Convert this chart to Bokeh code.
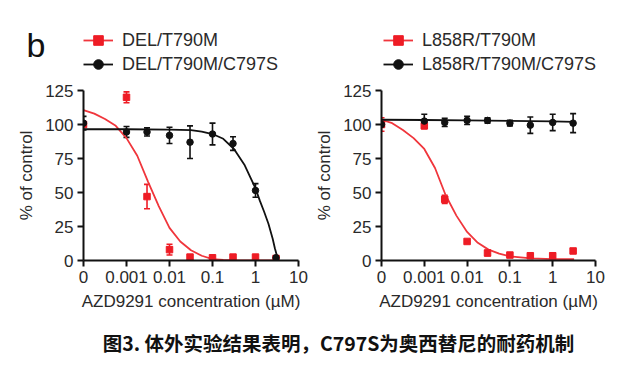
from bokeh.plotting import figure
from bokeh.models import (Range1d, FixedTicker, ColumnDataSource, Whisker, TeeHead,
                          Legend, LegendItem, Label)
from bokeh.layouts import column, row
from bokeh.embed import file_html
from bokeh.resources import INLINE

# ---------------- data ----------------
# concentrations in µM; the control (0) is drawn at the "0" tick position (1e-4)
conc = [1e-4, 0.001, 0.003, 0.01, 0.03, 0.1, 0.3, 1, 3]
tick_vals = [1e-4, 1e-3, 1e-2, 0.1, 1, 10]
tick_labels = ["0", "0.001", "0.01", "0.1", "1", "10"]
y_ticks = [0, 25, 50, 75, 100, 125]

# panel 1 : DEL
del_t790m = [100, 120, 47, 8, 2.5, 2, 2.5, 2.5, 1.5]
del_t790m_err = [1, 4, 9, 4, 1, 1, 1, 1, 1]
del_c797s = [101, 94.5, 94.5, 92, 87, 93, 86, 51.5, 2]
del_c797s_err = [5, 4, 3, 6, 12, 8, 5, 5, 1]

fit_x_del_red = [1e-4, 1.78e-4, 3.16e-4, 5.62e-4, 1e-3, 1.78e-3, 3.16e-3, 5.62e-3, 1e-2,
                 1.78e-2, 3.16e-2, 5.62e-2, 0.1, 0.178, 0.316, 1, 3.16]
fit_y_del_red = [110.5, 108, 104, 99, 90, 77, 58, 40, 24, 14, 7.5, 3.5, 1, 0.4, 0.2, 0, 0]
fit_x_del_black = [1e-4, 1e-3, 1e-2, 3.16e-2, 5.62e-2, 0.1, 0.178, 0.316, 0.562, 1,
                   1.26, 1.58, 2.0, 2.51, 2.82, 3.39]
fit_y_del_black = [96.5, 96.5, 96.3, 95.8, 94.8, 93, 89.5, 82, 70, 53, 44, 36, 27, 16, 9, 0]

# panel 2 : L858R
l858r_t790m = [100, 99, 45, 14, 5.5, 4, 3.5, 3.5, 7]
l858r_t790m_err = [5, 2, 3, 1, 2, 1, 1, 2, 1]
l858r_c797s = [100, 102.5, 101.5, 103, 103, 101, 99.5, 101.5, 101]
l858r_c797s_err = [2, 5, 3, 3, 2, 2, 6, 6, 7]

fit_x_l_red = [1e-4, 1.78e-4, 3.16e-4, 5.62e-4, 1e-3, 1.78e-3, 3.16e-3, 5.62e-3, 1e-2,
               1.78e-2, 3.16e-2, 5.62e-2, 0.1, 0.316, 1, 3.16]
fit_y_l_red = [103.5, 101, 96, 90, 82, 68, 48, 33, 21, 13, 8, 5, 3, 1.5, 1, 1]
fit_x_l_black = [1e-4, 1e-3, 1e-2, 0.1, 1, 3.16]
fit_y_l_black = [103.5, 103.3, 103, 102.7, 102.3, 102]

legend_labels_1 = ["DEL/T790M", "DEL/T790M/C797S"]
legend_labels_2 = ["L858R/T790M", "L858R/T790M/C797S"]
panel_letter = "b"
caption = "图3. 体外实验结果表明，C797S为奥西替尼的耐药机制"

RED = "#ee1c25"
CURVE_RED = "#f0363c"
BLACK = "#111111"
FONT = "Liberation Sans"
TXT = "#2a2a2a"


def make_panel(width, left, right, red_y, red_e, blk_y, blk_e, fxr, fyr, fxb, fyb):
    p = figure(width=width, height=240, x_axis_type="log",
               x_range=Range1d(1e-4, 10), y_range=Range1d(0, 125),
               output_backend="svg", toolbar_location=None,
               min_border_left=left, min_border_right=right,
               min_border_top=10, min_border_bottom=60)
    p.grid.visible = False
    p.outline_line_color = None

    p.xaxis.ticker = FixedTicker(ticks=tick_vals, minor_ticks=[])
    p.xaxis.major_label_overrides = {v: t for v, t in zip(tick_vals, tick_labels)}
    p.yaxis.ticker = FixedTicker(ticks=y_ticks, minor_ticks=[])
    p.xaxis.axis_label = "AZD9291 concentration (µM)"
    p.yaxis.axis_label = "% of control"
    for ax in (p.xaxis[0], p.yaxis[0]):
        ax.axis_line_width = 2
        ax.axis_line_color = BLACK
        ax.major_tick_line_width = 2
        ax.major_tick_line_color = BLACK
        ax.major_tick_out = 6
        ax.major_tick_in = 0
        ax.minor_tick_out = 0
        ax.minor_tick_in = 0
        ax.major_label_text_font = FONT
        ax.major_label_text_font_size = "17px"
        ax.major_label_text_color = TXT
        ax.axis_label_text_font = FONT
        ax.axis_label_text_font_size = "17px"
        ax.axis_label_text_font_style = "normal"
        ax.axis_label_text_color = TXT
    p.xaxis.major_label_standoff = 4
    p.xaxis.axis_label_standoff = 6
    p.yaxis.major_label_standoff = 4
    p.yaxis.axis_label_standoff = 6

    src_r = ColumnDataSource(dict(x=conc, y=red_y,
                                  lo=[a - b for a, b in zip(red_y, red_e)],
                                  hi=[a + b for a, b in zip(red_y, red_e)]))
    src_b = ColumnDataSource(dict(x=conc, y=blk_y,
                                  lo=[a - b for a, b in zip(blk_y, blk_e)],
                                  hi=[a + b for a, b in zip(blk_y, blk_e)]))

    p.line(fxr, fyr, line_color=CURVE_RED, line_width=1.8)
    p.add_layout(Whisker(source=src_r, base="x", lower="lo", upper="hi", dimension="height",
                         line_color=RED, line_width=1.6,
                         lower_head=TeeHead(size=6, line_color=RED, line_width=1.6),
                         upper_head=TeeHead(size=6, line_color=RED, line_width=1.6)))
    p.scatter("x", "y", source=src_r, marker="square", size=6.5,
              fill_color=RED, line_color=RED)

    p.line(fxb, fyb, line_color=BLACK, line_width=1.8)
    p.add_layout(Whisker(source=src_b, base="x", lower="lo", upper="hi", dimension="height",
                         line_color=BLACK, line_width=1.6,
                         lower_head=TeeHead(size=6, line_color=BLACK, line_width=1.6),
                         upper_head=TeeHead(size=6, line_color=BLACK, line_width=1.6)))
    p.scatter("x", "y", source=src_b, marker="circle", size=6.5,
              fill_color=BLACK, line_color=BLACK)
    return p


def make_strip(width, legend_x, labels, red_y, blk_y, letter=None):
    s = figure(width=width, height=80, x_range=Range1d(0, 1), y_range=Range1d(0, 1),
               x_axis_type=None, y_axis_type=None, output_backend="svg",
               toolbar_location=None, min_border=0)
    s.grid.visible = False
    s.outline_line_color = None
    # hidden copies of the series: only the legend shows their style
    lr = s.line(x=conc, y=red_y, line_color=CURVE_RED, line_width=1.8, visible=False)
    sr = s.scatter(x=conc, y=red_y, marker="square", fill_color=RED, line_color=RED,
                   visible=False)
    lb = s.line(x=conc, y=blk_y, line_color=BLACK, line_width=1.8, visible=False)
    sb = s.scatter(x=conc, y=blk_y, marker="circle", fill_color=BLACK, line_color=BLACK,
                   visible=False)
    legend = Legend(items=[LegendItem(label=labels[0], renderers=[lr, sr]),
                           LegendItem(label=labels[1], renderers=[lb, sb])],
                    location=(legend_x, 4), orientation="vertical",
                    glyph_width=30, glyph_height=24, spacing=0, padding=0, margin=0,
                    label_standoff=9, label_height=20, label_text_font=FONT,
                    label_text_font_size="18px", label_text_color=TXT,
                    border_line_color=None, background_fill_alpha=0,
                    inactive_fill_alpha=0)
    s.add_layout(legend, "center")
    if letter:
        s.add_layout(Label(x=26, y=36, x_units="screen", y_units="screen",
                           text=letter, text_font=FONT, text_font_size="34px",
                           text_color="#111111", text_baseline="alphabetic"))
    return s


s1 = make_strip(310, 83, legend_labels_1, del_t790m, del_c797s, panel_letter)
s2 = make_strip(330, 73, legend_labels_2, l858r_t790m, l858r_c797s)
p1 = make_panel(310, 83, 12, del_t790m, del_t790m_err, del_c797s, del_c797s_err,
                fit_x_del_red, fit_y_del_red, fit_x_del_black, fit_y_del_black)
p2 = make_panel(330, 71, 45, l858r_t790m, l858r_t790m_err, l858r_c797s, l858r_c797s_err,
                fit_x_l_red, fit_y_l_red, fit_x_l_black, fit_y_l_black)

cap = figure(width=640, height=57, x_range=Range1d(0, 1), y_range=Range1d(0, 1),
             x_axis_type=None, y_axis_type=None, output_backend="svg",
             toolbar_location=None, min_border=0)
cap.grid.visible = False
cap.outline_line_color = None
cap.add_layout(Label(x=338, y=35, x_units="screen", y_units="screen",
                     text=caption,
                     text_font="Noto Sans CJK SC", text_font_size="19.5px",
                     text_font_style="bold", text_color="#111111",
                     text_align="center", text_baseline="middle"))

layout = column(row(s1, s2), row(p1, p2), cap)
open("out.html", "w").write(file_html(layout, INLINE))
